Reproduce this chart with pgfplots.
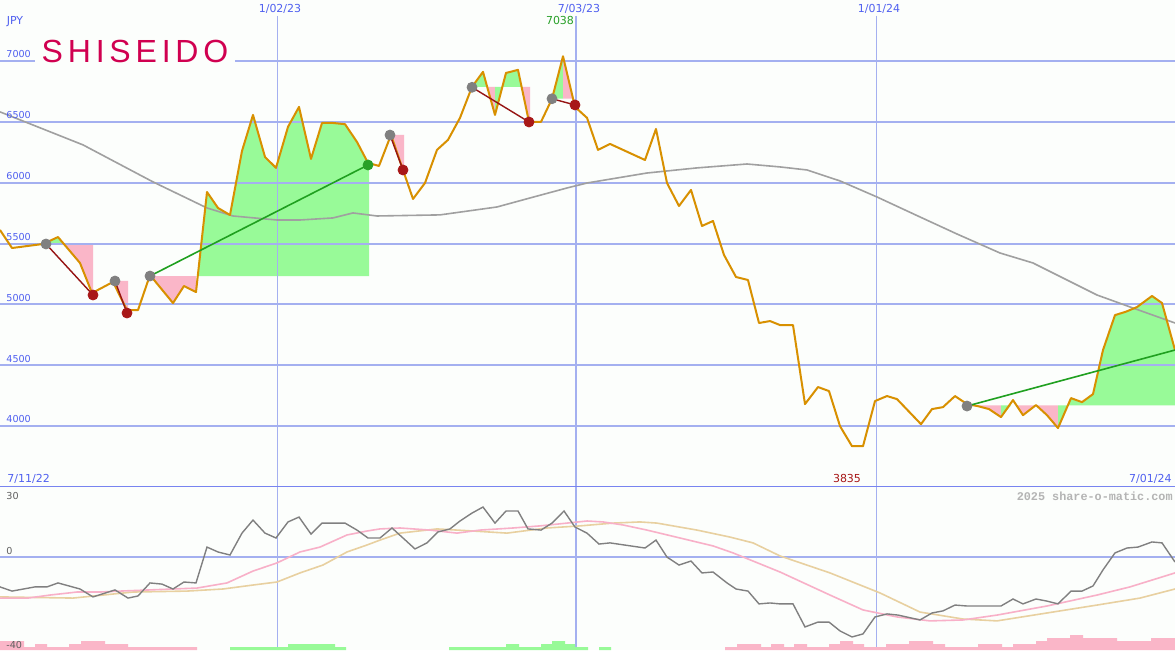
\documentclass[border=0pt]{standalone}
\usepackage{fontspec}
\setmainfont{DejaVu Sans}
\newfontfamily\wmfont{Liberation Mono}
\newfontfamily\logofont[LetterSpace=15]{Liberation Sans}
\usepackage{pgfplots}
\pgfplotsset{compat=1.18}

\definecolor{bgc}{RGB}{252,254,252}
\definecolor{gridc}{RGB}{164,176,240}
\definecolor{sepc}{RGB}{120,132,240}
\definecolor{labc}{RGB}{80,96,240}
\definecolor{pricec}{RGB}{216,144,0}
\definecolor{mac}{RGB}{160,160,160}
\definecolor{fillg}{RGB}{152,250,152}
\definecolor{fillp}{RGB}{250,182,200}
\definecolor{mgrey}{RGB}{128,128,128}
\definecolor{mred}{RGB}{168,24,24}
\definecolor{mgreen}{RGB}{40,160,40}
\definecolor{lgreen}{RGB}{32,160,32}
\definecolor{lred}{RGB}{150,20,20}
\definecolor{oscc}{RGB}{128,128,128}
\definecolor{pinkc}{RGB}{248,176,200}
\definecolor{tanc}{RGB}{232,208,160}
\definecolor{logoc}{RGB}{208,0,80}
\definecolor{wmc}{RGB}{180,180,180}
\definecolor{lowlab}{RGB}{96,96,96}

\pgfplotsset{
  panel/.style={scale only axis, width=587.5pt, xmin=0, xmax=1175,
    anchor=south west, axis line style={draw=none}, major tick length=0pt,
    xtick=\empty, yticklabels={}},
}
\tikzset{
  lab/.style={font=\fontsize{5.5}{6}\selectfont, text=labc, inner sep=0pt},
  ylab/.style={font=\fontsize{4.8}{5}\selectfont, text=labc, inner sep=0pt, anchor=base west},
  olab/.style={font=\fontsize{4.8}{5}\selectfont, text=lowlab, inner sep=0pt, anchor=base west},
}

\begin{document}
\begin{tikzpicture}
% ---- price panel: background and shaded areas
\begin{axis}[panel, at={(0,81.5pt)}, height=243.5pt, ymin=3500, ymax=7500,
  ytick=\empty, axis background/.style={fill=bgc}]
\addplot[fill=fillg, draw=none] coordinates {(46,5496) (58,5553) (64,5496)};
\addplot[fill=fillp, draw=none] coordinates {(64,5496) (93,5496) (93,5093) (80,5340)};
\addplot[fill=fillp, draw=none] coordinates {(113.5,5192) (128,5192) (128,4953) (127,4953)};
\addplot[fill=fillp, draw=none] coordinates {(150,5233) (196,5233) (196,5101) (184,5151) (173,5011)};
\addplot[fill=fillg, draw=none] coordinates {(197.8,5233) (207,5923) (218,5792) (230,5734)
  (242,6260) (253,6556) (265,6211) (276,6121) (288,6458) (299,6622) (311,6195) (322,6490)
  (333,6490) (345,6480) (357,6334) (368,6162) (369,6162) (369,5233)};
\addplot[fill=fillp, draw=none] coordinates {(391,6392) (404,6392) (404,6110) (403,6104)};
\addplot[fill=fillg, draw=none] coordinates {(472,6786) (483,6910) (487,6786)};
\addplot[fill=fillp, draw=none] coordinates {(487,6786) (495,6786) (495,6556)};
\addplot[fill=fillg, draw=none] coordinates {(495,6786) (495,6556) (502,6786)};
\addplot[fill=fillg, draw=none] coordinates {(502,6786) (506,6901) (518,6926) (521.6,6786)};
\addplot[fill=fillp, draw=none] coordinates {(521.6,6786) (530,6786) (530,6499) (529,6499)};
\addplot[fill=fillg, draw=none] coordinates {(552,6689) (563,7038) (563,6689)};
\addplot[fill=fillp, draw=none] coordinates {(563,7038) (573,6689) (563,6689)};
\addplot[fill=fillp, draw=none] coordinates {(967,4170) (978,4164) (989,4140) (1001,4074) (1001,4170)};
\addplot[fill=fillg, draw=none] coordinates {(1001,4170) (1001,4074) (1011,4170)};
\addplot[fill=fillp, draw=none] coordinates {(1016.5,4170) (1058,4170) (1058,3984) (1047,4090) (1036,4170) (1023,4090)};
\addplot[fill=fillg, draw=none] coordinates {(1058,4170) (1058,3984) (1067.8,4170)};
\addplot[fill=fillg, draw=none] coordinates {(1067.8,4170) (1071,4230) (1082,4197) (1093,4263)
  (1103,4625) (1115,4912) (1126,4940) (1137,4978) (1152,5069) (1162,5011) (1175,4625) (1175,4170)};
\end{axis}

% ---- price panel: grid, lines, signals, labels
\begin{axis}[panel, at={(0,81.5pt)}, height=243.5pt, ymin=3500, ymax=7500,
  ytick={4000,4500,...,7000}, ymajorgrids, major grid style={gridc, line width=1pt}, clip=false]
\draw[gridc, line width=0.5pt] (axis cs:277.5,7369) -- (axis cs:277.5,3500);
\draw[gridc, line width=1pt] (axis cs:576,7369) -- (axis cs:576,3500);
\draw[gridc, line width=0.5pt] (axis cs:876.5,7369) -- (axis cs:876.5,3500);
\draw[sepc, line width=1pt] (axis cs:0,3500) -- (axis cs:1175,3500);

% 40-week average
\addplot[mac, line width=0.8pt] coordinates {
  (0,6581) (83,6310) (153,6006) (207,5792) (233,5726) (277,5693) (300,5693) (333,5710)
  (353,5751) (377,5726) (440,5735) (497,5800) (530,5874) (567,5956) (587,5997) (647,6079)
  (697,6121) (747,6153) (780,6129) (807,6104) (840,6014) (877,5882) (920,5718) (957,5578)
  (1000,5422) (1033,5340) (1097,5077) (1133,4970) (1175,4847)};

% weekly close
\addplot[pricec, line width=1pt, line join=round] coordinates {
  (0,5611) (12,5463) (43,5496) (58,5553) (80,5340) (92,5093) (113,5184) (127,4953) (138,4953)
  (150,5241) (173,5011) (184,5151) (196,5101) (207,5923) (218,5792) (230,5734) (242,6260)
  (253,6556) (265,6211) (276,6121) (288,6458) (299,6622) (311,6195) (322,6490) (333,6490)
  (345,6480) (357,6334) (368,6162) (379,6137) (391,6392) (403,6104) (413,5866) (425,5997)
  (437,6269) (448,6351) (460,6532) (472,6786) (483,6910) (495,6556) (506,6901) (518,6926)
  (529,6499) (541,6499) (552,6688) (563,7038) (575,6622) (587,6532) (598,6269) (610,6318)
  (645,6186) (656,6441) (667,5997) (679,5808) (691,5940) (702,5644) (713,5685) (724,5406)
  (736,5225) (748,5200) (759,4847) (770,4863) (780,4830) (793,4830) (805,4181) (818,4321)
  (829,4288) (840,4000) (852,3835) (863,3835) (875,4206) (887,4247) (897,4222) (921,4016)
  (932,4140) (943,4156) (955,4247) (967,4181) (978,4164) (989,4140) (1001,4074) (1013,4214)
  (1023,4090) (1036,4173) (1047,4090) (1058,3984) (1071,4230) (1082,4197) (1093,4263)
  (1103,4625) (1115,4912) (1126,4940) (1137,4978) (1152,5069) (1162,5011) (1175,4625)};

% signal links
\addplot[lred, line width=0.7pt] coordinates {(46,5496) (93,5077)};
\addplot[lred, line width=0.7pt] coordinates {(115,5192) (127,4929)};
\addplot[lred, line width=0.7pt] coordinates {(390,6391) (403,6104)};
\addplot[lred, line width=0.7pt] coordinates {(472,6783) (529,6498)};
\addplot[lred, line width=0.7pt] coordinates {(552,6689) (575,6638)};
\addplot[lgreen, line width=0.8pt] coordinates {(150,5233) (368,6145)};
\addplot[lgreen, line width=0.8pt] coordinates {(967,4165) (1175,4625)};

\addplot[only marks, mark=*, mark size=2.5pt, mark options={fill=mgrey, draw=mgrey}] coordinates {
  (46,5496) (115,5192) (150,5233) (390,6391) (472,6783) (552,6689) (967,4165)};
\addplot[only marks, mark=*, mark size=2.5pt, mark options={fill=mred, draw=mred}] coordinates {
  (93,5077) (127,4929) (403,6104) (529,6498) (575,6638)};
\addplot[only marks, mark=*, mark size=2.5pt, mark options={fill=mgreen, draw=mgreen}] coordinates {
  (368,6145)};

% logo
\node[fill=bgc, minimum width=100pt, minimum height=15pt, inner sep=0pt,
  font=\logofont\fontsize{16}{16}\selectfont, text=logoc] at (axis cs:135,7081) {SHISEIDO};

% labels
\node[lab, anchor=base] at (axis cs:15,7295) {JPY};
\node[lab, anchor=base] at (axis cs:280,7397) {1/02/23};
\node[lab, anchor=base] at (axis cs:579,7397) {7/03/23};
\node[lab, anchor=base] at (axis cs:879,7397) {1/01/24};
\node[lab, anchor=base, text=mgreen] at (axis cs:560,7295) {7038};
\node[lab, anchor=base west] at (axis cs:7,3533) {7/11/22};
\node[lab, anchor=base, text=mred] at (axis cs:847,3533) {3835};
\node[lab, anchor=base east] at (axis cs:1172,3533) {7/01/24};
\node[ylab, yshift=1.6pt] at (axis cs:6,4000) {4000};
\node[ylab, yshift=1.6pt] at (axis cs:6,4500) {4500};
\node[ylab, yshift=1.6pt] at (axis cs:6,5000) {5000};
\node[ylab, yshift=1.6pt] at (axis cs:6,5500) {5500};
\node[ylab, yshift=1.6pt] at (axis cs:6,6000) {6000};
\node[ylab, yshift=1.6pt] at (axis cs:6,6500) {6500};
\node[ylab, yshift=1.6pt] at (axis cs:6,7000) {7000};
\end{axis}

% ---- oscillator panel
\begin{axis}[panel, at={(0,0)}, height=81.5pt, ymin=-40, ymax=30,
  ytick={0}, ymajorgrids, major grid style={gridc, line width=1pt},
  axis background/.style={fill=bgc}]
\draw[gridc, line width=0.5pt] (axis cs:277.5,-40) -- (axis cs:277.5,30);
\draw[gridc, line width=1pt] (axis cs:576,-40) -- (axis cs:576,30);
\draw[gridc, line width=0.5pt] (axis cs:876.5,-40) -- (axis cs:876.5,30);

\addplot[tanc, line width=0.8pt] coordinates {
  (0,-17.2) (73,-17.7) (133,-15.1) (187,-14.7) (223,-13.8) (253,-12.1) (277,-10.8) (300,-6.9)
  (323,-3.5) (347,2.1) (367,5.1) (380,7.2) (400,10.2) (437,12.0) (473,11.1) (507,10.2)
  (547,12.4) (580,13.3) (613,14.5) (640,15.0) (657,14.5) (697,11.5) (730,8.5) (753,6.0)
  (780,0.4) (830,-6.9) (880,-15.5) (920,-23.7) (963,-26.7) (997,-27.5) (1047,-24.1)
  (1097,-20.7) (1140,-17.7) (1175,-13.8)};
\addplot[pinkc, line width=0.8pt] coordinates {
  (0,-17.7) (28,-17.7) (50,-16.4) (77,-15.1) (100,-15.1) (120,-14.7) (197,-13.4) (227,-11.2)
  (253,-6.1) (277,-2.6) (300,2.1) (320,4.2) (347,9.4) (367,11.1) (380,12.0) (400,12.4)
  (430,11.5) (457,10.2) (480,11.5) (513,12.4) (540,13.3) (567,14.5) (587,15.4) (603,15.0)
  (623,13.7) (647,11.5) (680,8.1) (713,4.7) (733,1.7) (780,-6.5) (830,-16.4) (863,-22.8)
  (897,-25.8) (930,-27.5) (963,-27.1) (997,-25.0) (1047,-21.1) (1097,-16.4) (1130,-12.9)
  (1175,-6.9)};
\addplot[oscc, line width=0.7pt] coordinates {
  (0,-12.9) (12,-14.7) (35,-12.9) (47,-12.9) (58,-11.2) (80,-13.8) (93,-17.2) (115,-14.2)
  (128,-17.7) (138,-16.8) (150,-11.2) (162,-11.7) (173,-13.8) (184,-10.8) (196,-11.2)
  (207,4.2) (218,2.1) (230,0.8) (242,10.2) (253,15.8) (265,10.2) (276,8.1) (288,15.0)
  (299,17.1) (311,9.8) (322,14.5) (345,14.5) (357,11.5) (368,8.1) (380,8.1) (392,12.4)
  (403,8.1) (415,3.4) (427,6.0) (438,10.7) (450,12.0) (460,15.4) (472,18.8) (483,21.4)
  (495,14.5) (506,19.7) (518,19.7) (528,12.0) (541,11.5) (552,14.5) (564,19.7) (575,12.8)
  (587,10.2) (599,5.5) (610,6.0) (645,3.8) (656,7.2) (667,-0.1) (679,-3.5) (691,-1.8)
  (702,-6.9) (713,-6.5) (727,-11.2) (736,-13.8) (748,-14.7) (759,-20.2) (770,-19.8)
  (780,-20.2) (793,-20.2) (805,-30.1) (818,-28.0) (829,-28.0) (840,-31.8) (852,-34.4)
  (863,-33.1) (875,-25.8) (887,-24.5) (898,-25.0) (920,-27.1) (932,-24.1) (943,-23.2)
  (955,-20.7) (967,-21.1) (978,-21.1) (989,-21.1) (1001,-21.1) (1013,-18.1) (1023,-20.2)
  (1036,-18.1) (1047,-19.0) (1058,-20.2) (1071,-14.7) (1082,-14.7) (1093,-12.5)
  (1103,-5.6) (1115,1.7) (1127,3.8) (1138,4.2) (1152,6.4) (1162,6.0) (1175,-2.2)};

\node[olab] at (axis cs:6,24.6) {30};
\node[olab] at (axis cs:6,1.0) {0};
\node[font=\wmfont\bfseries\fontsize{5.9}{6}\selectfont, text=wmc, inner sep=0pt, anchor=base east] at (axis cs:1173,24.4) {2025 share-o-matic.com};
\end{axis}

% ---- volume blocks
\begin{axis}[panel, at={(0,0)}, height=81.5pt, ymin=0, ymax=54.33, ytick=\empty, clip=false]
\addplot[const plot, fill=fillp, draw=none] coordinates {
  (0,3) (24,1) (35,2) (47,1) (69,2) (81,3) (105,2) (128,1) (197,1)} \closedcycle;
\addplot[const plot, fill=fillg, draw=none] coordinates {
  (230,1) (288,2) (335,1) (346,1)} \closedcycle;
\addplot[const plot, fill=fillg, draw=none] coordinates {
  (449,1) (506,2) (519,1) (541,2) (552,3) (565,2) (575,1) (588,1)} \closedcycle;
\addplot[const plot, fill=fillg, draw=none] coordinates {
  (599,1) (611,1)} \closedcycle;
\addplot[const plot, fill=fillp, draw=none] coordinates {
  (725,1) (737,2) (761,1) (771,2) (784,1) (794,2) (807,1) (829,2) (840,3) (853,2) (864,1)
  (886,2) (909,3) (933,2) (945,1) (978,2) (1002,1) (1013,2) (1036,3) (1047,4) (1070,5)
  (1083,4) (1117,3) (1151,4) (1175,4)} \closedcycle;
\node[olab] at (axis cs:6,0.65) {-40};
\end{axis}

\pgfresetboundingbox
\useasboundingbox (0,0) rectangle (587.5pt,325pt);
\end{tikzpicture}
\end{document}
